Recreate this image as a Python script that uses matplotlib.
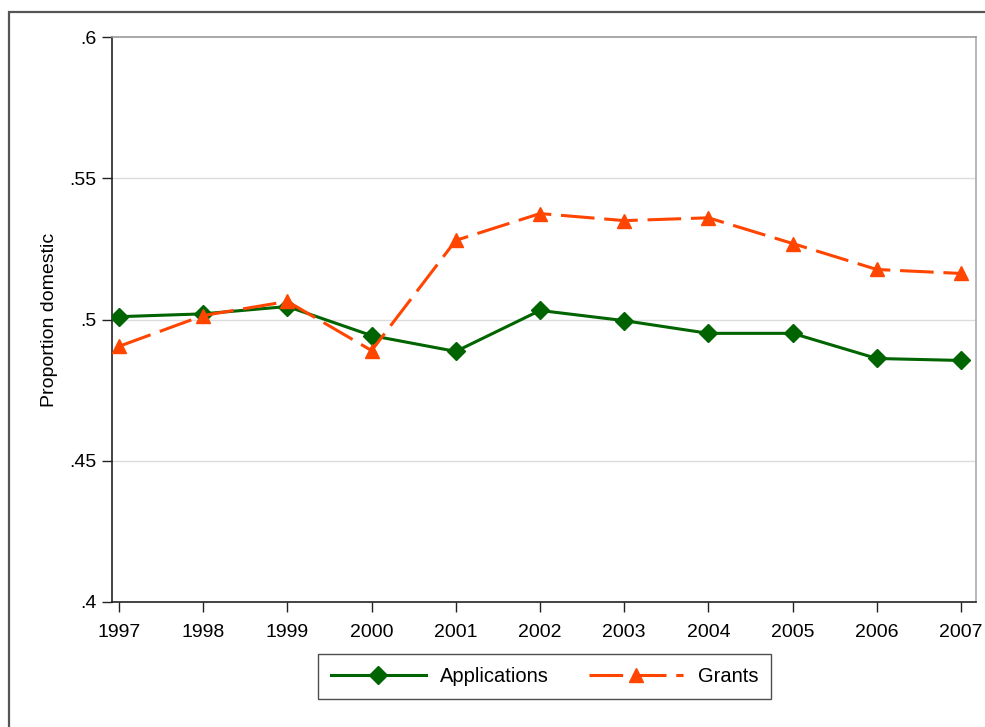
import matplotlib
matplotlib.use("Agg")
import matplotlib.pyplot as plt
from matplotlib.patches import Rectangle

plt.rcParams['font.family'] = ['Liberation Sans', 'DejaVu Sans']

years = [1997, 1998, 1999, 2000, 2001, 2002, 2003, 2004, 2005, 2006, 2007]
applications = [0.501, 0.502, 0.5046, 0.4943, 0.4887, 0.5032, 0.4996, 0.4951, 0.4951, 0.4862, 0.4855]
grants = [0.4905, 0.5014, 0.5064, 0.489, 0.528, 0.5375, 0.535, 0.536, 0.5269, 0.5177, 0.5163]
yticks = [0.4, 0.45, 0.5, 0.55, 0.6]
ytick_labels = ['.4', '.45', '.5', '.55', '.6']

fig = plt.figure(figsize=(9.85, 7.27), dpi=100)
ax = fig.add_axes([112 / 985, 1 - 602 / 727, (976 - 112) / 985, (602 - 37) / 727])

# outer frame (runs off the right and bottom edges)
fig.patches.append(Rectangle((9 / 985, -0.1), 1.2, 1 - 12 / 727 + 0.1,
                             transform=fig.transFigure, fill=False,
                             edgecolor='#555555', linewidth=1.6))

for y in [0.45, 0.5, 0.55]:
    ax.axhline(y, color='#dcdcdc', linewidth=1.0, zorder=0)

ax.plot(years, applications, color='#006400', linewidth=2.2, marker='D',
        markersize=9, label='Applications', zorder=3)
ax.plot(years, grants, color='#ff4500', linewidth=2.2, marker='^',
        markersize=10, dashes=(11, 3.2), label='Grants', zorder=3)

ax.set_xlim(1996.917, 2007.178)
ax.set_ylim(0.4, 0.6)
ax.set_xticks(years)
ax.set_xticklabels([str(y) for y in years], fontsize=14)
ax.set_yticks(yticks)
ax.set_yticklabels(ytick_labels, fontsize=14)
ax.tick_params(direction='out', length=7, width=1.0, color='#222222')
ax.tick_params(axis='x', pad=9)
ax.tick_params(axis='y', pad=4)
ax.set_ylabel('Proportion domestic', fontsize=14, labelpad=8)

ax.spines['left'].set_color('#222222')
ax.spines['bottom'].set_color('#222222')
ax.spines['top'].set_color('#999999')
ax.spines['right'].set_color('#aaaaaa')
for s in ax.spines.values():
    s.set_linewidth(1.2)

leg = ax.legend(loc='center', bbox_to_anchor=(544.5 / 985, 1 - 676.5 / 727),
                bbox_transform=fig.transFigure, ncol=2, fontsize=14.5,
                frameon=True, fancybox=False, handlelength=4.7,
                columnspacing=2.0, handletextpad=0.7, borderpad=0.65)
leg.get_frame().set_edgecolor('#222222')
leg.get_frame().set_linewidth(1.0)

fig.savefig('out.png', dpi=100)
